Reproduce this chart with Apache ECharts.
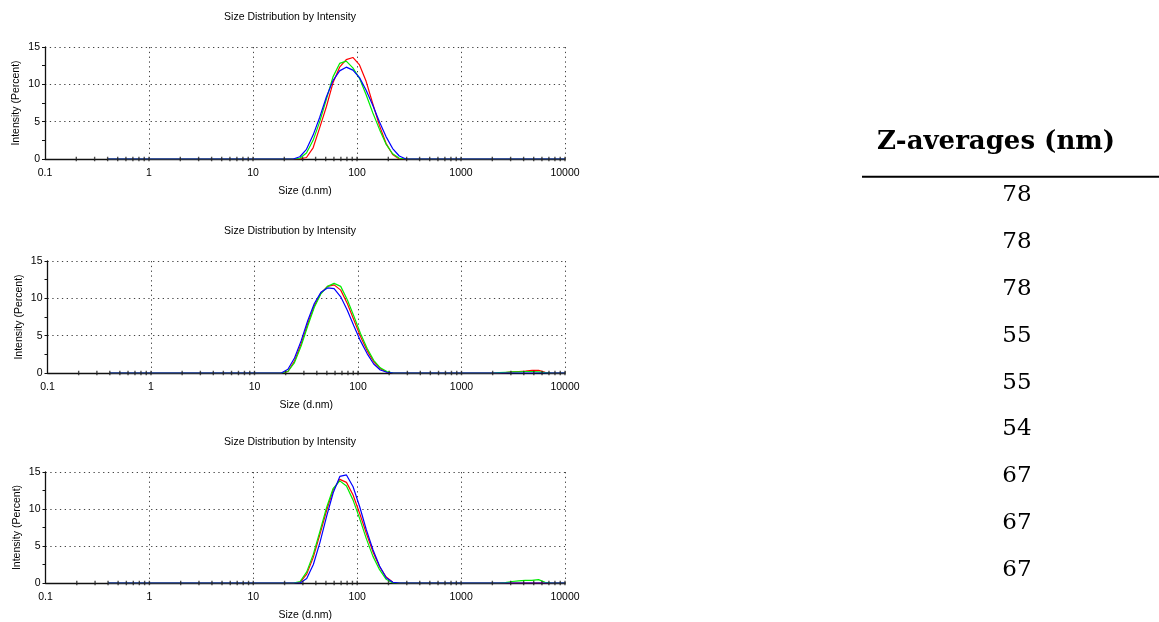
<!DOCTYPE html>
<html><head><meta charset="utf-8">
<script src="https://cdn.jsdelivr.net/npm/echarts@6/dist/echarts.min.js"></script>
<style>html,body{margin:0;padding:0;background:#fff}#c{width:1159px;height:622px}</style>
</head><body><div id="c"></div>
<script>
// Size bins (d.nm)
const sizes = [
  0.4,0.4632,0.5365,0.6213,0.7195,0.8332,0.9649,1.117,1.294,1.499,
  1.736,2.01,2.328,2.696,3.122,3.615,4.187,4.849,5.615,6.503,
  7.531,8.721,10.1,11.7,13.54,15.69,18.17,21.04,24.36,28.21,
  32.67,37.84,43.82,50.75,58.77,68.06,78.82,91.28,105.7,122.4,
  141.8,164.2,190.1,220.2,255.0,295.3,342.0,396.1,458.7,531.2,
  615.1,712.4,825.0,955.4,1106,1281,1484,1718,1990,2305,
  2669,3091,3580,4145,4801,5560,6439,7456,8635,10000
];
// Panel 1 (top)
const topRed = [
  0,0,0,0,0,0,0,0,0,0,
  0,0,0,0,0,0,0,0,0,0,
  0,0,0,0,0,0,0,0,0,0,
  0.2,1.5,4.2,7.0,10.2,12.3,13.3,13.6,12.6,10.4,
  7.4,4.5,2.1,0.6,0,0,0,0,0,0,
  0,0,0,0,0,0,0,0,0,0,
  0,0,0,0,0,0,0,0,0,0
];
const topGreen = [
  0,0,0,0,0,0,0,0,0,0,
  0,0,0,0,0,0,0,0,0,0,
  0,0,0,0,0,0,0,0,0,0.1,
  0.8,2.5,5.0,8.0,11.0,12.8,13.1,12.2,10.8,8.6,
  6.2,4.0,2.0,0.7,0.1,0,0,0,0,0,
  0,0,0,0,0,0,0,0,0,0,
  0,0,0,0,0,0,0,0,0,0
];
const topBlue = [
  0,0,0,0,0,0,0,0,0,0,
  0,0,0,0,0,0,0,0,0,0,
  0,0,0,0,0,0,0,0,0,0.3,
  1.3,3.2,5.6,8.3,10.5,11.8,12.3,11.9,10.9,9.2,
  7.2,5.0,3.0,1.4,0.4,0,0,0,0,0,
  0,0,0,0,0,0,0,0,0,0,
  0,0,0,0,0,0,0,0,0,0
];
// Panel 2 (middle)
const midRed = [
  0,0,0,0,0,0,0,0,0,0,
  0,0,0,0,0,0,0,0,0,0,
  0,0,0,0,0,0,0,0.2,1.6,3.9,
  6.6,9.0,10.7,11.6,11.8,11.1,9.3,7.1,4.9,3.0,
  1.5,0.6,0.1,0,0,0,0,0,0,0,
  0,0,0,0,0,0,0,0,0,0,
  0.05,0.15,0.2,0.25,0.35,0.35,0.1,0,0,0
];
const midGreen = [
  0,0,0,0,0,0,0,0,0,0,
  0,0,0,0,0,0,0,0,0,0,
  0,0,0,0,0,0,0,0.2,1.4,3.6,
  6.3,8.8,10.6,11.6,12.0,11.6,9.8,7.6,5.3,3.3,
  1.7,0.7,0.2,0,0,0,0,0,0,0,
  0,0,0,0,0,0,0,0,0,0.05,
  0.1,0.15,0.15,0.2,0.2,0.15,0.05,0,0,0
];
const midBlue = [
  0,0,0,0,0,0,0,0,0,0,
  0,0,0,0,0,0,0,0,0,0,
  0,0,0,0,0,0,0,0.5,2.0,4.3,
  7.0,9.3,10.8,11.4,11.3,10.2,8.4,6.3,4.3,2.6,
  1.2,0.4,0.1,0,0,0,0,0,0,0,
  0,0,0,0,0,0,0,0,0,0,
  0,0,0,0,0,0,0,0,0,0
];
// Panel 3 (bottom)
const botRed = [
  0,0,0,0,0,0,0,0,0,0,
  0,0,0,0,0,0,0,0,0,0,
  0,0,0,0,0,0,0,0,0,0.1,
  1.2,3.5,6.6,9.8,12.6,14.0,13.6,11.9,9.4,6.7,
  4.2,2.2,0.8,0.1,0,0,0,0,0,0,
  0,0,0,0,0,0,0,0,0,0,
  0,0,0,0,0,0,0,0,0,0
];
const botGreen = [
  0,0,0,0,0,0,0,0,0,0,
  0,0,0,0,0,0,0,0,0,0,
  0,0,0,0,0,0,0,0,0,0.2,
  1.5,3.9,7.0,10.2,12.8,13.8,13.1,11.2,8.7,6.0,
  3.6,1.8,0.5,0,0,0,0,0,0,0,
  0,0,0,0,0,0,0,0,0,0,
  0.05,0.2,0.3,0.35,0.35,0.45,0.1,0,0,0
];
const botBlue = [
  0,0,0,0,0,0,0,0,0,0,
  0,0,0,0,0,0,0,0,0,0,
  0,0,0,0,0,0,0,0,0,0,
  0.6,2.5,5.5,9.0,12.2,14.4,14.6,13.0,10.3,7.2,
  4.5,2.3,0.7,0.1,0,0,0,0,0,0,
  0,0,0,0,0,0,0,0,0,0,
  0,0,0,0,0,0,0,0,0,0
];
// x-axis tick mark positions drawn on the baseline
const xTickMarks = [
  0.2,0.3,0.4,0.5,0.6,0.7,0.8,0.9,
  1,2,3,4,5,6,7,8,9,
  10,20,30,40,50,60,70,80,90,
  100,200,300,400,500,600,700,800,900,
  1000,2000,3000,4000,5000,6000,7000,8000,9000,10000
];
const zAverages = [78,78,78,55,55,54,67,67,67];
const chartTitle = 'Size Distribution by Intensity';
const xName = 'Size (d.nm)';
const yName = 'Intensity (Percent)';
const tableHeader = 'Z-averages (nm)';
const seriesColors = ['#ff0000', '#00ee00', '#0000ff'];

const panels = [
  { data: [topRed, topGreen, topBlue], left: 45, top: 47 },
  { data: [midRed, midGreen, midBlue], left: 47.5, top: 261 },
  { data: [botRed, botGreen, botBlue], left: 45.5, top: 472 }
];
const PLOT_RIGHT = 565, PLOT_H = 112;
const sans = 'Liberation Sans';

const grid = [], xAxis = [], yAxis = [], series = [], graphic = [];
panels.forEach((p, k) => {
  grid.push({ left: p.left, top: p.top, width: PLOT_RIGHT - p.left, height: PLOT_H, containLabel: false });
  xAxis.push({
    type: 'log', logBase: 10, min: 0.1, max: 10000, gridIndex: k,
    name: xName, nameLocation: 'middle', nameGap: 27,
    nameTextStyle: { fontFamily: sans, fontSize: 10.5, color: '#000' },
    axisLine: { show: true, lineStyle: { color: '#111', width: 1.3 } },
    axisTick: { show: false },
    minorTick: { show: false },
    axisLabel: { fontFamily: sans, fontSize: 10.5, color: '#000', margin: 9,
      formatter: v => (v < 1 ? v.toFixed(1) : String(Math.round(v))) },
    splitLine: { show: true, lineStyle: { color: '#444', width: 1, type: [1.3, 3.5] } }
  });
  yAxis.push({
    type: 'value', min: 0, max: 15, interval: 5, gridIndex: k,
    name: yName, nameLocation: 'middle', nameGap: 23,
    nameTextStyle: { fontFamily: sans, fontSize: 10.5, color: '#000' },
    axisLine: { show: true, lineStyle: { color: '#111', width: 1.3 } },
    axisTick: { show: true, length: 3, lineStyle: { color: '#111' } },
    minorTick: { show: true, splitNumber: 2, length: 3, lineStyle: { color: '#111' } },
    axisLabel: { fontFamily: sans, fontSize: 10.5, color: '#000', margin: 5 },
    splitLine: { show: true, lineStyle: { color: '#444', width: 1, type: [1.3, 3.5] } }
  });
  p.data.forEach((arr, j) => {
    series.push({
      type: 'line', xAxisIndex: k, yAxisIndex: k,
      data: sizes.map((s, i) => [s, arr[i]]),
      showSymbol: false, smooth: false, silent: true,
      lineStyle: { color: seriesColors[j], width: 1.2 },
      z: 3 + j
    });
  });
  series.push({
    type: 'scatter', xAxisIndex: k, yAxisIndex: k, silent: true,
    data: xTickMarks.map(v => [v, 0]),
    symbol: 'rect', symbolSize: [1.4, 4.5],
    itemStyle: { color: '#222' }, z: 10
  });
  graphic.push({
    type: 'text', x: 290, y: p.top - 30, silent: true,
    style: { text: chartTitle, fontFamily: sans, fontSize: 10.5, fill: '#000',
      align: 'center', verticalAlign: 'middle' }
  });
});

// Z-average table on the right
graphic.push({
  type: 'text', x: 996, y: 142, silent: true,
  style: { text: tableHeader, fontFamily: 'DejaVu Serif', fontWeight: 'bold', fontSize: 26,
    fill: '#000', align: 'center', verticalAlign: 'middle' }
});
graphic.push({
  type: 'line', silent: true,
  shape: { x1: 862, y1: 176.7, x2: 1159, y2: 176.7 },
  style: { stroke: '#000', lineWidth: 2 }
});
zAverages.forEach((v, i) => {
  graphic.push({
    type: 'text', x: 1017, y: 195 + i * 46.9, silent: true,
    style: { text: String(v), fontFamily: 'DejaVu Serif', fontSize: 23,
      fill: '#000', align: 'center', verticalAlign: 'middle' }
  });
});

const chart = echarts.init(document.getElementById('c'), null, { renderer: 'canvas' });
chart.setOption({
  animation: false,
  backgroundColor: '#fff',
  grid, xAxis, yAxis, series, graphic
});
</script>
</body></html>
